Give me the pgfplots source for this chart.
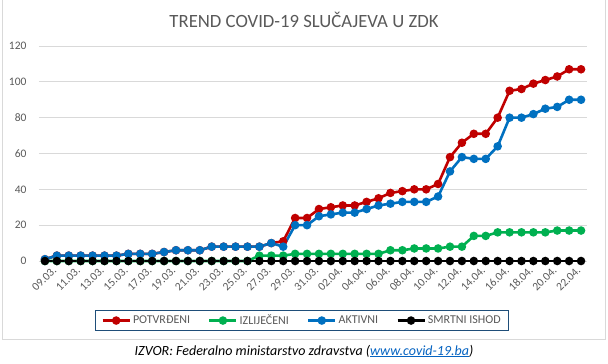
\documentclass[border=0pt]{standalone}
\usepackage{pgfplots}
\pgfplotsset{compat=1.18}
\usepackage{fontspec}
\setmainfont{Carlito}
\definecolor{cred}{HTML}{C00000}
\definecolor{cgreen}{HTML}{00B050}
\definecolor{cblue}{HTML}{0070C0}
\definecolor{tgray}{HTML}{595959}
\definecolor{ggray}{HTML}{D9D9D9}
\definecolor{legblue}{HTML}{1F4E79}
\definecolor{linkblue}{HTML}{0563C1}
\begin{document}
\begin{tikzpicture}[x=1pt,y=1pt]
\path[use as bounding box] (0,0) rectangle (608,-364);
\draw[ggray, line width=0.75pt] (2.5,0) -- (2.5,-339.5) -- (605.5,-339.5) -- (605.5,0);
\node[anchor=base, text=tgray, font=\fontsize{18.7}{22}\selectfont] at (304,-27.5) {TREND COVID-19 SLUČAJEVA U ZDK};
\begin{axis}[
  at={(39pt,-261pt)}, anchor=south west,
  scale only axis, width=548pt, height=215pt,
  xmin=-0.5, xmax=45.5, ymin=0, ymax=120,
  clip=false,
  axis line style={draw=none},
  major tick length=0pt,
  ytick={0,20,...,120},
  ymajorgrids, grid style={ggray, line width=0.75pt},
  xtick={0,2,...,44},
  xticklabels={09.03.,11.03.,13.03.,15.03.,17.03.,19.03.,21.03.,23.03.,25.03.,27.03.,29.03.,31.03.,02.04.,04.04.,06.04.,08.04.,10.04.,12.04.,14.04.,16.04.,18.04.,20.04.,22.04.},
  /pgf/number format/assume math mode=true,
  yticklabel style={font=\fontsize{11.5}{13}\selectfont, text=tgray, anchor=east, xshift=-9pt},
  xticklabel style={font=\fontsize{11.5}{13}\selectfont, text=tgray, rotate=45, anchor=east, xshift=5pt, yshift=-12pt},
  every axis plot/.append style={line width=2.6pt, mark=*, mark size=2.9pt},
  legend columns=4,
  legend style={at={(rel axis cs:0.48,-0.277)}, anchor=center, draw=legblue, line width=0.9pt,
    font=\fontsize{12}{14}\selectfont, text=tgray, inner xsep=6pt, inner ysep=2pt,
    /tikz/every even column/.append style={column sep=16pt}},
  legend image code/.code={\draw[#1, mark repeat=2, mark phase=2] plot coordinates {(0pt,0pt) (13.5pt,0pt) (27pt,0pt)};},
]
\addplot[cred, mark options={fill=cred, draw=cred}] coordinates {
(0,1) (1,3) (2,3) (3,3) (4,3) (5,3) (6,3) (7,4) (8,4) (9,4) (10,5) (11,6) (12,6) (13,6) (14,8) (15,8) (16,8) (17,8) (18,8) (19,10) (20,11) (21,24) (22,24) (23,29) (24,30) (25,31) (26,31) (27,33) (28,35) (29,38) (30,39) (31,40) (32,40) (33,43) (34,58) (35,66) (36,71) (37,71) (38,80) (39,95) (40,96) (41,99) (42,101) (43,103) (44,107) (45,107)};
\addlegendentry{POTVRĐENI}
\addplot[cgreen, mark options={fill=cgreen, draw=cgreen}] coordinates {
(0,0) (1,0) (2,0) (3,0) (4,0) (5,0) (6,0) (7,0) (8,0) (9,0) (10,0) (11,0) (12,0) (13,0) (14,0) (15,0) (16,0) (17,0) (18,3) (19,3) (20,3) (21,4) (22,4) (23,4) (24,4) (25,4) (26,4) (27,4) (28,4) (29,6) (30,6) (31,7) (32,7) (33,7) (34,8) (35,8) (36,14) (37,14) (38,16) (39,16) (40,16) (41,16) (42,16) (43,17) (44,17) (45,17)};
\addlegendentry{IZLIJEČENI}
\addplot[cblue, mark options={fill=cblue, draw=cblue}] coordinates {
(0,1) (1,3) (2,3) (3,3) (4,3) (5,3) (6,3) (7,4) (8,4) (9,4) (10,5) (11,6) (12,6) (13,6) (14,8) (15,8) (16,8) (17,8) (18,8) (19,10) (20,8) (21,20) (22,20) (23,25) (24,26) (25,27) (26,27) (27,29) (28,31) (29,32) (30,33) (31,33) (32,33) (33,36) (34,50) (35,58) (36,57) (37,57) (38,64) (39,80) (40,80) (41,82) (42,85) (43,86) (44,90) (45,90)};
\addlegendentry{AKTIVNI}
\addplot[black, mark options={fill=black, draw=black}] coordinates {
(0,0) (1,0) (2,0) (3,0) (4,0) (5,0) (6,0) (7,0) (8,0) (9,0) (10,0) (11,0) (12,0) (13,0) (14,0) (15,0) (16,0) (17,0) (18,0) (19,0) (20,0) (21,0) (22,0) (23,0) (24,0) (25,0) (26,0) (27,0) (28,0) (29,0) (30,0) (31,0) (32,0) (33,0) (34,0) (35,0) (36,0) (37,0) (38,0) (39,0) (40,0) (41,0) (42,0) (43,0) (44,0) (45,0)};
\addlegendentry{SMRTNI ISHOD}
\end{axis}
\node[anchor=base, font=\fontsize{14}{16}\selectfont\itshape] at (304,-355) {IZVOR: Federalno ministarstvo zdravstva (\textcolor{linkblue}{\underline{www.covid-19.ba}})};
\end{tikzpicture}
\end{document}
